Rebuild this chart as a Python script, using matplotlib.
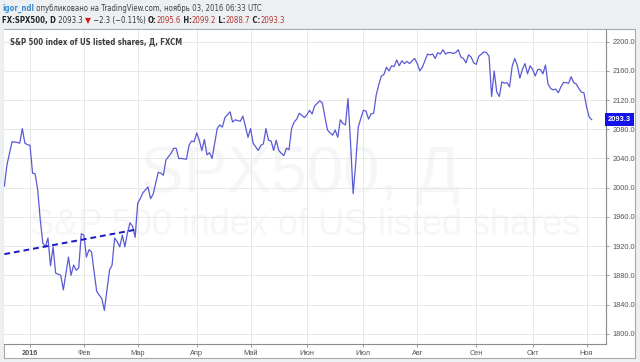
import matplotlib
matplotlib.use('Agg')
import matplotlib.pyplot as plt
from matplotlib.patches import Rectangle
from matplotlib import font_manager as fm

# ---------------- data ----------------
# x: trading-day index counted from 2016-01-01 (0 = 1 Jan 2016)
bar_index = [-10, -9, -7, -5, -4, -3, -2, -1, 0, 1, 2, 3, 4, 5, 6, 7, 8, 9, 10, 12,
             13, 15, 16, 17, 18, 19, 20, 21, 22, 23, 24, 26, 27, 28, 29, 31, 32, 33, 34, 35,
             36, 37, 38, 39, 40, 41, 42, 43, 44, 46, 47, 48, 50, 51, 52, 53, 55, 56, 57, 58,
             59, 61, 62, 63, 64, 65, 66, 67, 68, 69, 70, 71, 73, 74, 75, 76, 78, 79, 80, 82,
             83, 84, 85, 86, 87, 89, 90, 91, 92, 93, 94, 95, 96, 97, 98, 99, 100, 101, 102, 103,
             104, 105, 107, 108, 109, 110, 111, 113, 114, 115, 116, 117, 118, 119, 120, 121, 122, 123, 124, 125,
             126, 127, 128, 129, 130, 131, 132, 133, 134, 135, 136, 137, 138, 139, 140, 141, 142, 143, 144, 145,
             146, 147, 148, 149, 150, 151, 152, 153, 155, 156, 157, 158, 159, 160, 161, 162, 163, 164, 165, 166,
             167, 168, 169, 170, 171, 172, 173, 174, 175, 177, 178, 179, 180, 181, 182, 183, 184, 185, 186, 187,
             188, 189, 190, 191, 192, 193, 194, 195, 196, 197, 198, 199, 200, 201, 202, 203, 204, 205, 206, 207,
             208, 209, 210, 211, 212, 213, 214, 215, 216, 217, 218, 219]
close = [2002, 2031, 2063, 2062, 2061, 2081, 2061, 2059, 2058, 2020, 2019, 1997, 1956, 1924, 1919, 1931, 1893, 1919, 1883, 1880,
         1860, 1905, 1880, 1894, 1887, 1890, 1937, 1935, 1905, 1915, 1912, 1858, 1853, 1848, 1832, 1887, 1894, 1931, 1926, 1919,
         1935, 1919, 1938, 1952, 1947, 1932, 1979, 1985, 1993, 2001, 1985, 1991, 2021, 2020, 2017, 2038, 2047, 2054, 2054, 2040,
         2040, 2039, 2058, 2064, 2063, 2075, 2065, 2051, 2066, 2045, 2048, 2040, 2081, 2086, 2083, 2096, 2104, 2090, 2093, 2091,
         2098, 2084, 2069, 2081, 2061, 2051, 2058, 2060, 2081, 2065, 2064, 2051, 2065, 2051, 2047, 2044, 2054, 2052, 2081, 2090,
         2094, 2102, 2096, 2100, 2106, 2101, 2112, 2119, 2116, 2097, 2079, 2075, 2072, 2079, 2069, 2093, 2088, 2086, 2122, 2061,
         1992, 2033, 2083, 2095, 2106, 2105, 2094, 2101, 2102, 2127, 2141, 2153, 2155, 2165, 2160, 2167, 2166, 2175, 2167, 2174,
         2170, 2173, 2170, 2174, 2177, 2170, 2160, 2165, 2183, 2182, 2183, 2177, 2185, 2183, 2189, 2183, 2185, 2185, 2184, 2185,
         2189, 2179, 2177, 2171, 2182, 2179, 2171, 2169, 2180, 2186, 2185, 2180, 2125, 2160, 2131, 2125, 2145, 2143, 2144, 2138,
         2166, 2177, 2168, 2150, 2162, 2170, 2156, 2167, 2162, 2153, 2162, 2162, 2156, 2168, 2142, 2136, 2134, 2135, 2130, 2138,
         2144, 2144, 2143, 2152, 2144, 2142, 2136, 2131, 2130, 2111, 2097, 2093.3]

trend_x = [-10, 42]
trend_y = [1909, 1943]

month_ticks = [0, 21, 42, 65, 86, 108, 130, 151, 174, 196, 217]
month_labels = ['2016', 'Фев', 'Мар', 'Апр', 'Май', 'Июн', 'Июл', 'Авг', 'Сен', 'Окт', 'Ноя']
price_ticks = [1800, 1840, 1880, 1920, 1960, 2000, 2040, 2080, 2120, 2160, 2200]

# ---------------- fonts ----------------
_names = {f.name for f in fm.fontManager.ttflist}
_dv_cond = any(f.name == 'DejaVu Sans' and 'condensed' in str(f.stretch).lower()
               for f in fm.fontManager.ttflist)
if 'Liberation Sans Narrow' in _names:
    NARROW = dict(family=['Liberation Sans Narrow', 'DejaVu Sans'])
elif _dv_cond:
    NARROW = dict(family=['DejaVu Sans'], stretch='condensed')
else:
    NARROW = dict(family=['Roboto', 'Liberation Sans', 'DejaVu Sans'])
SANS = ['Liberation Sans', 'DejaVu Sans']

# ---------------- layout ----------------
W, H = 640, 362
fig = plt.figure(figsize=(6.4, 3.62), dpi=100, facecolor='#edf0f3')
renderer = fig.canvas.get_renderer()


def fx(px):
    return px / W


def fy(py):
    return 1 - py / H


frame = Rectangle((fx(4), fy(358)), fx(635) - fx(4), fy(29) - fy(358),
                  transform=fig.transFigure, facecolor='white',
                  edgecolor='#a8a8a8', lw=0.8, zorder=-5)
fig.patches.append(frame)

ax = fig.add_axes([fx(4), fy(344), fx(606) - fx(4), fy(29.5) - fy(344)])
ax.set_zorder(2)
ax.set_facecolor('white')
ax.set_xlim(-10.14, 224.6)
ax.set_ylim(1785.9, 2216.7)

for s in ['left', 'top']:
    ax.spines[s].set_visible(False)
for s in ['right', 'bottom']:
    ax.spines[s].set_color('#8c8c8c')
    ax.spines[s].set_linewidth(0.8)

ax.yaxis.tick_right()
ax.set_yticks(price_ticks)
ax.set_yticklabels([f'{v:.1f}' for v in price_ticks])
ax.set_xticks(month_ticks)
ax.set_xticklabels(month_labels)
ax.tick_params(axis='both', colors='#8c8c8c', labelcolor='#555555',
               labelsize=5.3, length=2.5, width=0.6, pad=2)
for lab in ax.get_xticklabels() + ax.get_yticklabels():
    lab.set_family(SANS)
ax.get_xticklabels()[0].set_fontweight('bold')
ax.grid(True, color='#e8e8e8', lw=0.7)
ax.set_axisbelow(True)

# watermarks
ax.text(fx(300), fy(192), 'SPX500, Д', transform=fig.transFigure,
        family=SANS, fontsize=47, color='#f6f6f6', ha='center',
        va='baseline', zorder=0.5)
ax.text(fx(305), fy(235), 'S&P 500 index of US listed shares', transform=fig.transFigure,
        family=SANS, fontsize=26, color='#f6f6f6', ha='center',
        va='baseline', zorder=0.5)

# series
ax.plot(bar_index, close, color='#5a5ad6', lw=0.9, zorder=3)
ax.plot(trend_x, trend_y, color='#1818c8', lw=1.4, ls=(0, (3, 2)), zorder=4)

# last price label
ax.text(1.003, close[-1], '2093.3', transform=ax.get_yaxis_transform(),
        color='white', fontsize=5.4, family=SANS, fontweight='bold',
        va='center', ha='left', clip_on=False, zorder=10,
        bbox=dict(boxstyle='square,pad=0.35', fc='#1212ea', ec='none'))


def runs(x_px, y_px, parts, size):
    x = x_px
    for txt, color, weight, font in parts:
        t = fig.text(fx(x), fy(y_px), txt, color=color, fontweight=weight,
                     fontsize=size, va='baseline', ha='left', **font)
        bb = t.get_window_extent(renderer=renderer)
        x = bb.x1
    return x


# chart title inside plot
runs(10, 44, [('S&P 500 index of US listed shares, Д, FXCM', '#3a3a3a', 'bold', NARROW)], 5.6)

DV = dict(family=['DejaVu Sans'])
runs(2, 11, [('igor_ndl', '#3b8ed0', 'bold', NARROW),
             (' опубликовано на TradingView.com, ноябрь 03, 2016 06:33 UTC', '#404040', 'normal', NARROW)],
     5.6)
RED = '#b3322c'
runs(2, 23, [('FX:SPX500, D', '#222222', 'bold', NARROW),
             (' 2093.3 ', '#333333', 'normal', NARROW),
             ('▼', '#d0201c', 'normal', DV),
             (' −2.3 (−0.11%) ', '#333333', 'normal', NARROW),
             ('O:', '#222222', 'bold', NARROW),
             ('2095.6', RED, 'normal', NARROW),
             (' H:', '#222222', 'bold', NARROW),
             ('2099.2', RED, 'normal', NARROW),
             (' L:', '#222222', 'bold', NARROW),
             ('2088.7', RED, 'normal', NARROW),
             (' C:', '#222222', 'bold', NARROW),
             ('2093.3', RED, 'normal', NARROW)],
     5.6)

fig.savefig('out.png', dpi=100, facecolor=fig.get_facecolor())
